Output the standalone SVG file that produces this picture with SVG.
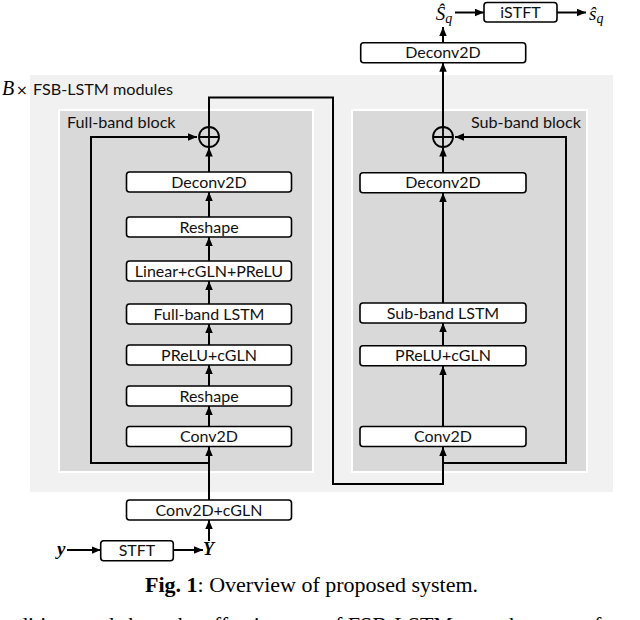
<svg xmlns="http://www.w3.org/2000/svg" width="640" height="620" viewBox="0 0 640 620">
<defs>
<marker id="ah" markerUnits="userSpaceOnUse" markerWidth="10" markerHeight="8" refX="9" refY="3.75" orient="auto">
<path d="M0,0 L9,3.75 L0,7.5 z" fill="#000"/>
</marker>
<style>
.box{fill:#fff;stroke:#000;stroke-width:1.6}
.lbl{font-family:Lato,"Open Sans",sans-serif;font-size:16px;fill:#111;text-anchor:middle}
.blk{font-family:Lato,"Open Sans",sans-serif;font-size:16.2px;fill:#111}
.con{fill:none;stroke:#000;stroke-width:2}
.arr{fill:none;stroke:#000;stroke-width:2;marker-end:url(#ah)}
.math{font-family:"Liberation Serif",serif;font-style:italic;fill:#000}
.cap{font-family:"Liberation Serif",serif;font-size:22px;fill:#000}
</style>
</defs>
<rect width="640" height="620" fill="#fff"/>

<g id="modules">
<rect x="30" y="75" width="583" height="417" fill="#f1f1f1"/>
<text x="2" y="95" class="math" font-size="20">B</text>
<text x="16" y="95" font-family="'DejaVu Sans',sans-serif" font-size="14" fill="#000">×</text>
<text x="33" y="95" class="blk" font-size="19">FSB-LSTM modules</text>
</g>

<g id="fullband-block">
<rect x="59" y="110" width="254" height="362" fill="#d9d9d9" stroke="#fff" stroke-width="2"/>
<text x="67" y="128" class="blk">Full-band block</text>
</g>
<g id="subband-block">
<rect x="352" y="110" width="235" height="362" fill="#d9d9d9" stroke="#fff" stroke-width="2"/>
<text x="581" y="128" class="blk" text-anchor="end">Sub-band block</text>
</g>

<g id="connectors">
<line x1="455" y1="12.5" x2="484" y2="12.5" class="arr"/>
<line x1="557" y1="12.5" x2="586" y2="12.5" class="arr"/>
<line x1="443" y1="42.7" x2="443" y2="27" class="arr"/>
<line x1="443" y1="127" x2="443" y2="62.7" class="arr"/>
<line x1="209" y1="500" x2="209" y2="447" class="arr"/>
<line x1="209" y1="426" x2="209" y2="406" class="arr"/>
<line x1="209" y1="386" x2="209" y2="365" class="arr"/>
<line x1="209" y1="345" x2="209" y2="324" class="arr"/>
<line x1="209" y1="304" x2="209" y2="281" class="arr"/>
<line x1="209" y1="261" x2="209" y2="237" class="arr"/>
<line x1="209" y1="217" x2="209" y2="192" class="arr"/>
<line x1="209" y1="172" x2="209" y2="147.5" class="arr"/>
<polyline points="209,463 91,463 91,137 197,137" class="arr"/>
<polyline points="209,127 209,97.5 333,97.5 333,484 443,484 443,447" class="arr"/>
<line x1="443" y1="426" x2="443" y2="366" class="arr"/>
<line x1="443" y1="345.7" x2="443" y2="323" class="arr"/>
<line x1="443" y1="303" x2="443" y2="193" class="arr"/>
<line x1="443" y1="172.7" x2="443" y2="147.5" class="arr"/>
<polyline points="443,463 566,463 566,137 455,137" class="arr"/>
<line x1="67" y1="550" x2="100.7" y2="550" class="arr"/>
<line x1="173.3" y1="550" x2="203" y2="550" class="arr"/>
<line x1="209" y1="541" x2="209" y2="520" class="arr"/>
</g>

<g id="add-full">
<circle cx="209" cy="137" r="10" fill="none" stroke="#000" stroke-width="1.8"/>
<path d="M199,137 H219 M209,127 V147" stroke="#000" stroke-width="1.8"/>
</g>
<g id="add-sub">
<circle cx="443" cy="137" r="10" fill="none" stroke="#000" stroke-width="1.8"/>
<path d="M433,137 H453 M443,127 V147" stroke="#000" stroke-width="1.8"/>
</g>

<g id="fb-deconv"><rect x="126.5" y="172" width="165" height="20" rx="3" class="box"/><text x="209" y="187.5" class="lbl">Deconv2D</text></g>
<g id="fb-reshape2"><rect x="126.5" y="217" width="165" height="20" rx="3" class="box"/><text x="209" y="232.5" class="lbl">Reshape</text></g>
<g id="fb-linear"><rect x="126.5" y="261" width="165" height="20" rx="3" class="box"/><text x="209" y="276.5" class="lbl">Linear+cGLN+PReLU</text></g>
<g id="fb-lstm"><rect x="126.5" y="304" width="165" height="20" rx="3" class="box"/><text x="209" y="319.5" class="lbl">Full-band LSTM</text></g>
<g id="fb-prelu"><rect x="126.5" y="345" width="165" height="20" rx="3" class="box"/><text x="209" y="360.5" class="lbl">PReLU+cGLN</text></g>
<g id="fb-reshape1"><rect x="126.5" y="386" width="165" height="20" rx="3" class="box"/><text x="209" y="401.5" class="lbl">Reshape</text></g>
<g id="fb-conv"><rect x="126.5" y="426.5" width="165" height="20" rx="3" class="box"/><text x="209" y="442" class="lbl">Conv2D</text></g>

<g id="sb-deconv"><rect x="360" y="172.7" width="166" height="20" rx="3" class="box"/><text x="443" y="188.2" class="lbl">Deconv2D</text></g>
<g id="sb-lstm"><rect x="360" y="303" width="166" height="20" rx="3" class="box"/><text x="443" y="318.5" class="lbl">Sub-band LSTM</text></g>
<g id="sb-prelu"><rect x="360" y="345.7" width="166" height="20" rx="3" class="box"/><text x="443" y="361.2" class="lbl">PReLU+cGLN</text></g>
<g id="sb-conv"><rect x="360" y="426.5" width="166" height="20" rx="3" class="box"/><text x="443" y="442" class="lbl">Conv2D</text></g>

<g id="out-deconv"><rect x="360.7" y="42.7" width="165" height="20" rx="3" class="box"/><text x="443" y="58.2" class="lbl">Deconv2D</text></g>
<g id="istft"><rect x="484" y="2.5" width="73" height="19.5" rx="3" class="box"/><text x="520.5" y="17.5" class="lbl">iSTFT</text></g>
<g id="S-hat"><text x="444" y="20" class="math" font-size="19" text-anchor="middle">Ŝ<tspan font-size="14" dy="3">q</tspan></text></g>
<g id="s-hat"><text x="589" y="20" class="math" font-size="19">ŝ<tspan font-size="14" dy="3">q</tspan></text></g>

<g id="conv-cgln"><rect x="126.5" y="500" width="165" height="20" rx="3" class="box"/><text x="209" y="515.5" class="lbl">Conv2D+cGLN</text></g>
<g id="stft"><rect x="100.7" y="540.7" width="72.6" height="20" rx="3" class="box"/><text x="137" y="556" class="lbl">STFT</text></g>
<g id="y-in"><text x="57" y="555" class="math" font-size="19" font-weight="bold">y</text></g>
<g id="Y-spec"><text x="203" y="555" class="math" font-size="18" font-weight="bold">Y</text></g>

<g id="caption">
<text x="145" y="592" class="cap"><tspan font-weight="bold">Fig. 1</tspan>: Overview of proposed system.</text>
<text x="17" y="632" class="cap">ditions and show the effectiveness of FSB-LSTM over the state-of-</text>
</g>
</svg>
